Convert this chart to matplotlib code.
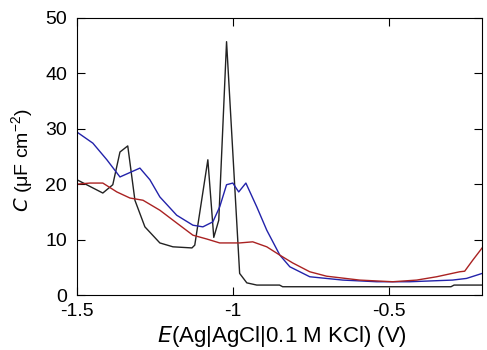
import numpy as np
import matplotlib
matplotlib.use('Agg')
import matplotlib.pyplot as plt

plt.rcParams['font.family'] = ['Liberation Sans', 'DejaVu Sans']
plt.rcParams['axes.unicode_minus'] = False

# black curve
E_black = [-1.5, -1.417, -1.385, -1.362, -1.337, -1.314, -1.282, -1.234, -1.192,
           -1.131, -1.122, -1.08, -1.061, -1.045, -1.02, -0.978, -0.955, -0.923,
           -0.85, -0.84, -0.30, -0.29, -0.2]
C_black = [20.8, 18.4, 19.9, 25.8, 26.9, 17.1, 12.3, 9.4, 8.7,
           8.5, 9.0, 24.4, 10.4, 13.5, 45.7, 3.9, 2.2, 1.8,
           1.8, 1.5, 1.5, 1.8, 1.8]

# blue curve
E_blue = [-1.5, -1.449, -1.404, -1.362, -1.298, -1.266, -1.234, -1.18, -1.128,
          -1.096, -1.064, -1.042, -1.02, -1.0, -0.981, -0.958, -0.923, -0.891,
          -0.849, -0.817, -0.753, -0.647, -0.538, -0.433, -0.295, -0.25, -0.2]
C_blue = [29.4, 27.4, 24.4, 21.3, 22.9, 20.8, 17.7, 14.4, 12.6,
          12.3, 13.2, 15.9, 19.9, 20.2, 18.6, 20.2, 15.9, 11.7,
          7.2, 5.1, 3.3, 2.7, 2.4, 2.4, 2.7, 3.0, 3.9]

# red curve
E_red = [-1.5, -1.458, -1.417, -1.372, -1.33, -1.288, -1.234, -1.18, -1.128,
         -1.083, -1.042, -0.978, -0.936, -0.891, -0.849, -0.808, -0.753, -0.699,
         -0.593, -0.487, -0.41, -0.346, -0.272, -0.256, -0.23, -0.2]
C_red = [20.0, 20.2, 20.2, 18.6, 17.5, 17.1, 15.3, 13.0, 10.8,
         10.1, 9.4, 9.4, 9.6, 8.7, 7.2, 5.8, 4.2, 3.4,
         2.7, 2.4, 2.7, 3.3, 4.2, 4.3, 6.3, 8.5]

fig = plt.figure(figsize=(4.87, 3.5), dpi=100)
ax = fig.add_axes([0.158, 0.157, 0.832, 0.792])

ax.plot(E_black, C_black, color='#222222', lw=1.0)
ax.plot(E_blue, C_blue, color='#2222aa', lw=1.0)
ax.plot(E_red, C_red, color='#aa2222', lw=1.0)

ax.set_xlim(-1.5, -0.2)
ax.set_ylim(0, 50)
ax.set_xticks([-1.5, -1, -0.5])
ax.set_xticklabels(['-1.5', '-1', '-0.5'])
ax.set_yticks([0, 10, 20, 30, 40, 50])
ax.tick_params(direction='in', top=True, right=True, length=5.5, width=0.8,
               labelsize=14)
ax.tick_params(axis='x', pad=6)
ax.tick_params(axis='y', pad=7)
for s in ax.spines.values():
    s.set_linewidth(0.8)

ax.set_xlabel(r'$\it{E}$(Ag|AgCl|0.1 M KCl) (V)', fontsize=16, va='center')
ax.set_ylabel(r'$\it{C}$ ($\mathregular{\mu}$F cm$^{\mathregular{-2}}$)', fontsize=14,
              va='center')
ax.xaxis.set_label_coords(0.505, -0.148)
ax.yaxis.set_label_coords(-0.135, 0.485)

fig.savefig('out.png', dpi=100)
